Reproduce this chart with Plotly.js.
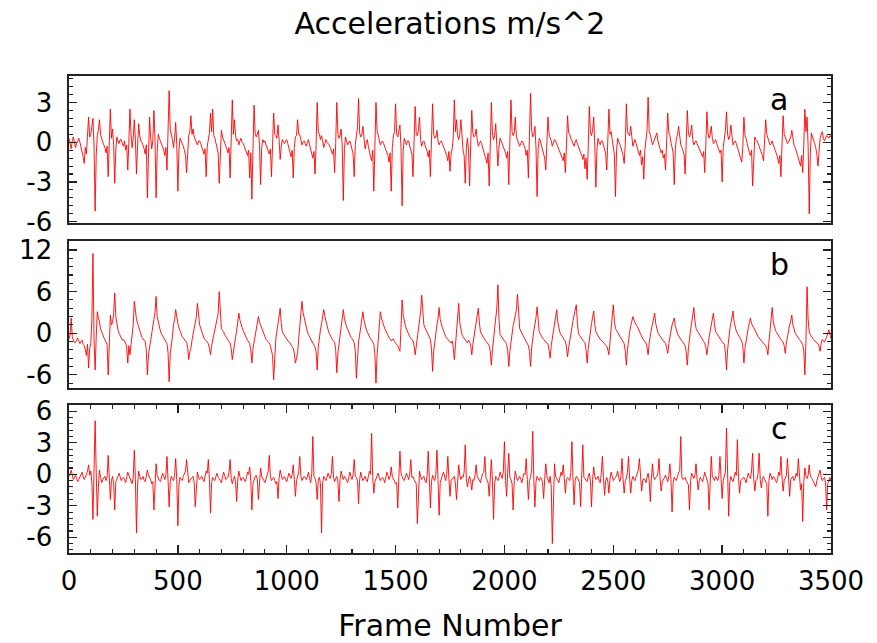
<!DOCTYPE html>
<html>
<head>
<meta charset="utf-8">
<script src="https://cdn.plot.ly/plotly-3.0.1.min.js"></script>
<style>html,body{margin:0;padding:0;background:#fff;}#chart{width:877px;height:643px;}</style>
</head>
<body>
<div id="chart"></div>
<script>
// Sampling grid: one value every 5 frames, frame 0 .. 3500
const FRAME_STEP = 5;
const panelLabels = ["a", "b", "c"];
const xTickVals = [0, 500, 1000, 1500, 2000, 2500, 3000, 3500];
const yTicksA = [-6, -3, 0, 3];
const yTicksB = [-6, 0, 6, 12];
const yTicksC = [-6, -3, 0, 3, 6];

const accA = [
 0.3,-0.1,-0.5,0.1,0.4,0.0,-0.4,-0.1,0.2,0.3,0.0,-0.3,-0.7,-1.1,-1.6,-0.4,-0.9,0.2,1.9,0.4,
 0.6,1.2,1.8,-0.3,-5.2,-1.0,0.5,0.9,1.7,0.6,0.2,0.0,-0.2,-0.4,-0.8,-0.3,-2.6,0.1,2.5,0.3,
 1.0,-0.2,-3.1,-0.5,0.4,0.1,-0.1,0.2,0.2,-0.1,-0.3,0.1,-0.6,-0.2,-2.1,0.0,2.5,0.6,-0.4,0.3,
 1.7,0.2,-2.4,-0.3,1.4,0.5,0.1,0.0,-0.2,-0.5,-0.9,-0.2,-4.2,-0.6,1.9,0.4,-0.5,0.1,2.4,0.3,
 -4.2,-0.8,0.6,0.3,0.1,-0.2,-0.3,-0.6,-1.0,-0.4,-2.1,0.2,3.9,1.0,0.7,0.2,-0.4,0.3,1.5,-0.2,
 -3.7,-0.6,0.3,0.1,0.0,-0.3,-0.6,-1.0,-2.3,-0.4,0.5,0.8,2.0,0.6,1.0,0.4,0.2,0.0,-0.2,0.1,
 0.1,-0.1,-0.4,-0.6,-0.9,-0.5,-2.6,-0.3,0.4,0.7,2.2,0.8,2.5,0.5,0.3,-0.1,-0.5,-0.8,-3.1,-0.2,
 0.9,0.4,0.2,0.0,-0.3,-0.5,-0.8,-0.4,-2.7,0.1,3.2,0.6,1.7,0.5,0.1,0.2,-0.2,0.1,0.3,0.0,
 -0.1,-0.3,-0.5,-0.7,-1.0,-0.6,-2.7,-0.8,-4.3,-0.5,2.8,0.7,0.4,0.6,0.9,-0.2,-3.2,-0.4,0.2,0.0,
 0.1,-0.2,-0.4,-0.6,-0.9,-0.5,-2.6,-0.2,2.2,0.6,0.5,0.3,1.3,0.2,-1.3,-0.3,0.2,0.0,-0.1,0.1,
 0.2,-0.1,-0.5,-0.8,-1.1,-0.6,-2.7,-0.4,0.4,0.5,1.7,0.6,0.6,0.2,-0.2,0.0,0.1,-0.1,-0.3,0.0,
 0.2,-0.2,-0.6,-0.9,-1.2,-0.7,-2.4,-0.2,3.0,0.8,0.6,0.2,0.5,0.1,-0.4,-0.1,0.2,0.0,-0.1,-0.2,
 -0.4,-0.7,-0.9,-0.5,-2.3,-0.1,3.0,0.7,0.3,0.5,1.0,-0.3,-4.4,-0.5,0.4,0.1,-0.2,0.0,0.1,-0.2,
 -0.6,-0.9,-2.6,-0.2,0.5,1.1,3.3,0.7,0.4,0.6,1.2,0.1,-0.5,-0.1,0.2,-0.3,-0.8,-1.1,-1.4,-0.6,
 -3.7,0.2,3.0,0.9,0.6,0.1,-0.2,0.0,0.1,-0.1,-0.3,-0.5,-0.7,-1.0,-1.5,-0.8,-3.7,-0.4,0.5,0.8,
 2.9,0.6,0.4,0.8,1.3,-0.4,-4.8,-0.6,0.3,0.0,-0.2,0.1,0.1,-0.3,-0.7,-0.9,-2.6,-0.1,2.7,0.6,
 0.5,0.9,1.9,0.2,-0.3,0.0,0.1,-0.2,-0.4,-0.7,-1.1,-0.6,-2.6,-0.1,2.9,0.6,0.3,0.4,0.9,0.1,
 -0.2,0.0,0.1,-0.1,-0.3,-0.5,-0.8,-1.0,-1.4,-0.7,-2.2,-0.9,-0.5,0.4,3.2,0.8,1.7,0.5,0.2,0.6,
 1.7,0.3,-0.6,-1.0,-3.1,-0.4,0.3,-0.6,-3.3,-0.2,2.4,0.7,0.4,0.5,1.0,0.2,-0.3,-0.1,0.1,-0.1,
 -0.4,-0.6,-0.9,-1.1,-1.6,-0.8,-3.3,-0.3,3.0,0.7,0.2,0.5,1.4,-0.2,-1.8,-0.4,0.3,0.1,-0.1,-0.3,
 -0.6,-0.8,-1.2,-0.7,-3.2,-0.2,3.2,0.8,0.5,0.7,1.9,0.4,0.2,0.0,-0.3,-0.1,0.1,0.0,-0.2,-0.5,
 -1.0,-0.6,-2.7,-0.1,3.7,0.9,0.4,0.6,1.2,-0.4,-4.1,-0.5,0.3,0.1,-0.2,-0.5,-0.9,-1.2,-2.1,-0.2,
 1.9,0.6,0.4,0.1,-0.3,0.0,0.2,0.1,-0.1,-0.3,-0.5,-0.7,-0.9,-1.1,-1.4,-0.8,-2.3,-0.2,2.0,0.7,
 0.6,0.3,0.1,-0.1,-0.3,0.0,0.2,-0.1,-0.4,-0.6,-0.8,-1.0,-1.3,-0.9,-2.0,-1.2,-2.8,-0.3,2.7,0.8,
 0.5,0.9,1.9,-0.2,-3.4,-0.5,0.3,0.0,-0.2,0.1,0.1,-0.2,-0.6,-0.9,-2.1,-0.1,2.5,0.6,0.8,0.2,
 -0.5,-0.9,-4.1,-0.6,0.3,0.1,-0.1,-0.4,-0.7,-1.0,-1.6,-0.2,2.9,0.8,0.6,0.5,1.2,0.1,-0.3,0.0,
 0.2,-0.1,-0.4,-0.7,-1.0,-0.6,-1.7,-1.1,-2.8,-0.6,0.5,0.9,3.4,0.8,0.6,0.1,-0.2,0.0,0.3,0.4,
 0.7,0.1,-0.3,-0.5,-0.8,-0.6,-1.2,-0.9,-2.1,-0.2,2.2,0.7,0.5,0.0,-0.4,-0.8,-3.2,-0.5,0.3,0.6,
 1.2,0.3,-0.2,-0.4,-0.7,-0.9,-2.4,-0.2,2.4,0.7,0.4,0.6,1.3,0.2,-0.2,0.0,0.1,-0.1,-0.3,-0.4,
 -0.6,-0.8,-1.1,-0.7,-2.3,-0.2,2.3,0.7,0.3,0.6,1.2,0.3,-0.1,0.0,0.2,-0.1,-0.3,-0.5,-0.8,-0.6,
 -3.0,-0.4,0.4,0.9,2.3,0.6,0.2,0.5,1.3,0.2,-0.2,0.0,0.1,-0.1,-0.4,-0.7,-0.9,-1.1,-1.5,-0.3,
 1.9,0.5,0.3,-0.1,-0.5,-0.8,-1.0,-0.6,-3.3,-0.5,0.4,0.2,0.1,-0.1,-0.3,-0.5,-0.7,-1.0,-1.4,-0.2,
 1.7,0.6,0.3,0.0,-0.2,-0.1,0.1,-0.2,-0.4,-0.6,-0.9,-1.2,-1.6,-1.0,-2.6,-0.2,2.0,0.6,0.4,0.1,
 -0.1,0.0,0.2,0.4,0.9,0.1,-0.2,-0.4,-0.6,-0.9,-1.2,-1.5,-1.8,-1.0,-2.3,-0.2,2.5,0.8,1.9,-0.3,
 -5.4,-0.8,0.7,0.4,0.2,-0.1,-0.4,-0.9,-1.8,-0.4,0.3,0.6,0.8,0.3,0.1,0.3,0.5,0.4,0.3,0.5,0.4
];

const accB = [
 -0.8,-0.3,2.2,-0.5,-1.0,-1.4,-1.3,-0.9,-0.7,-1.1,-1.5,-1.2,-1.0,-1.6,-1.8,-2.4,-3.2,-1.6,-5.0,-2.2,
 -1.5,2.0,11.5,-1.0,-5.3,-0.5,3.1,2.2,1.7,0.6,0.0,-0.2,-0.6,-0.9,-1.2,-1.6,-6.0,-1.5,2.6,1.2,
 1.5,2.8,5.8,2.4,1.2,0.5,0.0,-0.3,-0.6,-1.0,-0.9,-1.2,-1.4,-2.0,-4.3,-1.8,-3.1,-1.6,-0.5,1.2,
 4.6,2.9,2.0,1.4,0.8,0.2,-0.3,-0.6,-0.8,-1.0,-1.2,-2.4,-6.0,-3.1,-2.2,-1.3,-0.4,0.8,2.0,3.0,
 5.3,2.4,1.5,0.9,0.3,-0.1,-0.4,-0.7,-0.9,-1.2,-1.5,-2.8,-7.0,-2.9,-1.8,-0.5,1.2,2.0,3.4,2.2,
 1.4,0.8,0.3,-0.1,-0.5,-0.7,-0.9,-1.1,-1.3,-2.0,-3.8,-2.6,-2.2,-1.0,-0.2,0.6,1.5,2.4,4.3,2.1,
 1.2,0.7,0.2,-0.3,-0.7,-0.9,-1.1,-1.3,-1.5,-2.2,-3.1,-1.8,-1.0,-0.3,0.5,1.2,2.0,2.8,6.0,2.0,
 0.7,0.4,0.2,-0.2,-0.5,-0.8,-1.0,-1.2,-1.4,-2.2,-3.8,-2.5,-1.8,-0.6,0.3,1.4,2.9,1.9,1.2,0.8,
 0.4,0.0,-0.5,-0.7,-1.0,-1.3,-1.5,-2.4,-4.3,-2.2,-1.2,-0.3,0.6,1.5,2.4,1.6,1.2,0.7,0.3,-0.2,
 -0.6,-0.9,-1.1,-1.2,-1.4,-1.8,-2.5,-3.2,-6.7,-2.4,-0.8,0.3,1.5,2.2,3.6,1.4,0.2,-0.1,-0.4,-0.7,
 -0.9,-1.1,-1.2,-1.4,-1.6,-1.9,-2.2,-2.9,-4.3,-3.4,-2.9,-0.8,1.0,2.5,4.6,3.0,2.3,1.4,0.7,0.2,
 -0.2,-0.5,-0.8,-1.0,-1.2,-1.5,-2.0,-2.7,-5.3,-2.0,-0.5,0.5,1.4,2.3,3.4,2.5,1.7,1.0,0.5,0.0,
 -0.4,-0.7,-0.9,-1.1,-1.3,-2.4,-5.7,-2.9,-1.6,-0.3,0.8,2.0,3.4,2.1,1.2,0.9,0.6,0.1,-0.3,-0.6,
 -0.8,-1.0,-1.4,-2.6,-6.5,-2.8,-1.2,-0.2,0.9,1.8,3.1,1.9,1.0,0.6,0.2,-0.2,-0.5,-0.8,-1.0,-1.3,
 -1.6,-3.0,-7.2,-3.2,-0.9,1.0,3.1,2.2,1.8,1.2,0.7,0.3,0.0,-0.3,-0.6,-0.9,-1.1,-1.0,-0.8,-1.2,
 -1.4,-1.5,-1.8,-2.2,-2.6,0.8,4.8,2.6,1.7,1.1,0.6,0.2,-0.2,-0.5,-0.7,-0.9,-1.1,-1.8,-3.1,-1.9,
 -0.8,0.4,1.6,3.1,5.5,2.4,1.2,0.8,0.5,0.1,-0.3,-0.6,-0.9,-2.2,-5.5,-2.6,-1.0,0.0,1.2,2.1,
 3.7,2.0,1.2,0.8,0.4,-0.1,-0.5,-0.7,-0.9,-1.1,-1.3,-1.4,-1.1,-2.1,-3.8,-1.6,0.2,1.8,4.3,1.5,
 0.2,-0.2,-0.5,-0.7,-0.9,-1.2,-1.4,-1.0,-1.2,-1.8,-3.1,-1.6,-0.4,0.5,1.4,2.4,3.6,1.5,0.2,-0.1,
 -0.4,-0.7,-1.0,-1.2,-1.3,-1.5,-1.8,-2.6,-4.6,-2.4,-0.6,0.6,2.2,3.5,7.0,2.0,-0.2,-0.4,-0.7,-0.9,
 -1.1,-1.3,-1.6,-2.5,-4.8,-2.6,-1.0,0.0,1.1,1.8,2.5,3.4,5.6,2.2,0.7,0.3,0.0,-0.3,-0.7,-1.0,
 -1.2,-1.4,-1.8,-2.6,-4.8,-2.1,-0.4,0.4,1.3,2.2,3.8,1.6,0.2,-0.1,-0.5,-0.7,-0.9,-1.1,-1.3,-1.4,
 -1.6,-2.4,-3.6,-1.8,-0.6,0.3,1.2,2.2,3.4,1.6,0.5,0.1,-0.2,-0.5,-0.8,-1.0,-1.2,-2.0,-3.4,-2.1,
 -1.0,0.0,1.1,1.8,2.6,3.2,4.1,1.5,0.0,-0.3,-0.6,-0.8,-1.0,-1.2,-1.4,-2.4,-4.3,-2.2,-0.8,0.4,
 1.4,2.3,3.2,1.3,0.2,-0.1,-0.4,-0.7,-0.9,-1.0,-1.2,-1.4,-1.6,-1.7,-1.9,-2.4,-3.1,-1.2,0.3,2.0,
 4.1,1.8,0.7,0.4,0.1,-0.2,-0.5,-0.7,-0.9,-1.2,-1.5,-2.6,-4.6,-2.4,-0.8,0.1,1.0,1.6,2.4,1.9,
 1.4,1.2,1.0,0.6,0.2,-0.2,-0.5,-0.8,-1.0,-1.2,-1.4,-2.0,-3.1,-1.4,-0.2,0.6,1.3,2.0,2.9,1.4,
 0.5,0.1,-0.2,-0.5,-0.7,-0.9,-1.1,-1.3,-1.5,-2.1,-2.9,-1.5,-0.4,0.4,1.2,1.7,2.2,1.0,0.2,-0.1,
 -0.4,-0.7,-0.9,-1.1,-1.3,-1.5,-1.8,-2.7,-4.6,-2.2,-0.5,0.5,1.5,2.4,3.7,1.8,0.7,0.4,0.1,-0.2,
 -0.5,-0.7,-0.9,-1.2,-1.4,-2.0,-3.1,-1.6,-0.6,0.3,1.2,2.0,2.9,1.2,0.2,0.0,-0.3,-0.6,-0.8,-1.0,
 -1.2,-1.4,-1.6,-2.8,-5.3,-2.4,-0.4,0.5,1.4,2.2,3.2,1.6,0.7,0.3,0.0,-0.3,-0.6,-0.9,-1.1,-1.9,
 -4.3,-2.1,-0.9,0.0,0.8,1.5,2.2,1.4,1.0,0.8,0.5,0.1,-0.2,-0.5,-0.7,-0.9,-1.1,-1.2,-1.4,-1.6,
 -1.8,-2.2,-3.1,-1.2,0.2,1.8,3.7,1.6,0.7,0.4,0.1,-0.2,-0.5,-0.7,-0.9,-1.1,-1.3,-1.8,-2.9,-1.4,
 -0.4,0.4,1.2,1.8,2.6,1.2,0.5,0.1,-0.2,-0.5,-0.7,-0.9,-1.1,-1.3,-1.6,-2.6,-6.0,-1.0,6.7,2.0,
 0.2,-0.2,-0.5,-0.7,-0.9,-1.1,-1.2,-1.4,-1.5,-1.9,-2.6,-1.4,-0.9,-1.1,-1.3,-0.9,-0.6,-0.1,0.5,-0.3,-0.8
];

const accC = [
 -0.2,0.0,0.4,-0.2,-0.5,-0.3,-0.1,-0.4,-0.7,-0.5,-0.3,-0.1,0.2,-0.2,-0.5,-0.3,0.0,0.3,0.9,-0.1,
 0.3,-0.8,-4.3,-0.5,5.1,0.2,-4.0,-1.2,0.4,-0.3,-0.8,-0.5,-0.3,-0.2,-0.6,-0.3,1.8,-0.4,-2.4,-0.6,
 -0.2,-0.9,-3.4,-0.7,-0.5,-0.2,0.1,-0.3,-0.6,-0.4,-0.3,-0.5,-0.8,-0.3,0.2,-0.1,-0.4,-0.6,-0.9,-0.3,
 2.3,-0.5,-5.6,-1.0,0.3,-0.2,-0.5,-0.4,-0.2,-0.6,-0.7,-0.2,0.4,-0.1,-0.3,-0.5,-0.9,-0.7,-3.4,-0.8,
 1.0,-0.1,-0.4,-0.6,-0.7,-0.3,0.1,-0.2,-0.5,-0.1,1.7,-0.6,-3.1,-0.7,-0.2,-0.4,-0.6,-0.1,1.5,-0.5,
 -4.9,-1.0,-0.3,-0.5,-0.6,-0.2,0.1,0.3,1.4,-0.2,-0.8,-0.6,-0.4,-0.3,-0.2,-0.8,-3.1,-0.6,0.2,-0.3,
 -0.5,-0.3,-0.2,-0.5,-0.7,-0.2,0.3,0.1,1.4,-0.5,-3.7,-0.8,-0.3,-0.5,-0.6,-0.2,0.1,-0.3,-0.4,-0.6,
 -0.8,-0.3,0.2,-0.1,-0.5,-0.4,-0.3,0.2,1.4,-0.4,-0.9,-0.5,-0.2,-0.7,-2.6,-0.6,0.3,-0.2,-0.6,-0.4,
 -0.3,-0.5,-0.7,-0.3,0.2,0.0,0.7,-0.6,-3.4,-0.9,-0.4,-0.2,-0.1,-0.5,-2.4,-0.6,0.6,-0.2,-0.5,-0.6,
 -0.8,-0.4,-0.2,0.3,1.8,-0.2,-0.6,-0.4,-0.3,-0.6,-0.9,-0.7,-2.3,-0.4,0.4,-0.1,-0.5,-0.3,-0.2,-0.5,
 -0.7,-0.3,0.1,-0.2,-0.4,0.0,0.9,-0.5,-2.1,-0.6,-0.3,0.2,1.7,-0.2,-0.6,-0.4,-0.2,-0.3,-0.5,-0.2,
 0.2,-0.4,-0.8,0.1,3.6,-0.2,-0.4,-0.8,-2.4,-0.6,-0.3,-0.9,-5.6,-0.8,-0.2,-0.4,-0.6,-0.3,0.1,-0.2,
 -0.4,0.1,1.7,-0.3,-0.7,-0.4,-0.2,-0.7,-2.6,-0.5,0.3,-0.1,-0.5,-0.2,-0.3,-0.6,-0.8,-0.3,0.2,-0.2,
 -0.5,0.0,1.4,-0.2,-0.3,-0.6,-2.8,-0.5,0.2,-0.3,-0.6,-0.4,-0.2,-0.5,-0.7,-0.2,0.3,0.0,3.9,-0.3,
 -1.8,-0.7,-0.4,-0.2,0.1,-0.3,-0.6,-0.4,-0.3,-0.5,-0.8,-0.3,0.2,-0.1,-0.5,-0.2,0.7,-0.2,-0.4,-0.6,
 -0.9,-0.8,-3.2,-0.4,2.2,0.1,-0.3,-0.5,-0.6,-0.3,0.1,-0.2,-0.5,0.0,1.4,-0.3,-0.2,-0.5,-0.7,-0.9,
 -4.7,-0.9,0.3,-0.2,-0.5,-0.3,-0.2,-0.6,-0.8,-0.1,2.2,-0.4,-3.2,-0.7,-0.1,-0.4,-0.6,0.0,2.3,-0.5,
 -3.9,-0.8,-0.3,-0.1,0.2,-0.3,-0.6,0.0,1.7,-0.4,-2.1,-0.6,-0.4,-0.3,-0.2,-0.9,-2.4,-0.5,0.9,-0.1,
 -0.5,-0.2,-0.3,0.2,2.8,-0.4,-1.2,-0.6,-0.2,-0.7,-1.5,-0.5,-0.6,-0.1,0.9,-0.2,-0.4,-0.6,-0.8,-0.3,
 0.1,0.2,1.7,-0.3,-0.5,-0.8,-2.1,-0.2,1.4,-0.6,-4.3,-0.9,-0.2,-0.4,-0.6,-0.3,0.2,-0.1,-0.4,0.3,
 3.1,-0.6,-2.1,0.2,2.0,-0.3,-0.5,-0.9,-3.4,-0.6,0.3,-0.2,-0.6,-0.4,-0.2,-0.5,-0.8,-0.3,0.1,0.0,
 1.5,-0.5,-2.4,-0.6,-0.3,0.4,4.1,-0.5,-3.1,-0.7,-0.2,-0.4,-0.6,-0.3,-0.4,-0.8,-2.3,-0.4,1.0,-0.2,
 -0.5,-0.8,-0.2,-1.2,-6.6,-1.0,1.0,-0.2,-0.4,-0.6,-0.8,-0.3,0.2,-0.1,0.9,-0.4,-1.8,-0.5,-0.3,-0.4,
 -0.6,0.2,3.1,-0.4,-2.9,-0.6,-0.2,-0.3,-0.5,-0.8,-3.1,-0.2,2.8,-0.3,-0.4,-0.6,-0.7,-0.2,0.1,-0.7,
 -3.1,-0.5,0.7,-0.2,-0.5,-0.4,-0.2,-0.6,-0.8,0.1,1.7,-0.4,-2.0,-0.6,-0.3,-0.7,-1.8,-0.4,0.2,-0.2,
 -0.6,-0.4,-0.3,-0.1,0.3,-0.3,-0.7,-0.2,1.5,-0.5,-1.8,-0.6,-0.4,0.2,1.7,-0.4,-1.8,-0.6,-0.2,-0.5,
 -0.6,-0.2,0.2,0.4,1.5,-0.5,-1.6,-0.6,-0.4,-0.5,-0.8,-0.3,0.1,-0.6,-2.6,-0.4,1.0,-0.2,-0.5,-0.3,
 -0.2,0.1,1.5,-0.4,-1.6,-0.7,-0.5,-0.3,-0.1,-0.4,-0.7,-0.2,1.0,-0.5,-3.6,-0.8,-0.3,-0.5,-0.6,-0.2,
 0.2,0.3,3.6,-0.3,-0.5,-0.4,-0.3,-0.6,-0.8,-1.0,-3.4,-0.6,0.1,-0.2,-0.4,-0.1,1.0,-0.5,-1.5,-0.6,
 -0.3,-0.5,-0.7,-0.3,0.2,-0.2,-0.5,-0.8,-3.4,-0.4,1.7,-0.2,-0.4,-0.6,-0.2,-0.4,-0.6,-0.1,1.7,-0.4,
 -2.3,-0.6,-0.3,0.2,4.4,-0.6,-4.0,-0.8,-0.2,-0.5,-0.7,-0.3,0.2,-0.1,3.3,-0.3,-1.8,-0.6,-0.5,-0.4,
 -0.3,-0.5,-0.8,-0.3,0.1,-0.2,-0.4,0.3,2.0,-0.4,-1.6,-0.6,-0.5,0.1,2.0,-0.5,-1.3,-0.4,-0.2,-0.5,
 -0.7,-0.9,-4.0,-0.6,0.1,-0.3,-0.5,-0.2,-0.3,-0.6,-0.8,-0.4,0.2,-0.1,1.7,-0.3,-1.6,-0.6,-0.4,-0.1,
 1.5,-0.4,-2.1,-0.5,-0.3,-0.2,-0.6,-0.4,0.1,-0.2,1.5,-0.3,-1.5,-0.9,-4.5,-0.7,0.6,-0.2,-0.4,-0.1,
 0.9,-0.2,-0.3,-0.5,-0.7,-0.9,-1.2,-0.6,-0.2,0.1,0.4,-0.3,-0.6,-0.4,-0.3,-0.8,-3.4,-0.9,-0.5,-0.3,-0.7
];

const frames = accA.map((_, i) => i * FRAME_STEP);

const lineStyle = {color: '#ff0000', width: 0.9};
const traces = [
  {x: frames, y: accA, xaxis: 'x', yaxis: 'y', type: 'scatter', mode: 'lines', line: lineStyle, hoverinfo: 'skip'},
  {x: frames, y: accB, xaxis: 'x2', yaxis: 'y2', type: 'scatter', mode: 'lines', line: lineStyle, hoverinfo: 'skip'},
  {x: frames, y: accC, xaxis: 'x3', yaxis: 'y3', type: 'scatter', mode: 'lines', line: lineStyle, hoverinfo: 'skip'}
];

const FONT = 'DejaVu Sans, Liberation Sans, sans-serif';
const frameColor = '#222';

function yAxis(domain, range, tickvals, minorStep, anchor) {
  return {
    domain: domain, range: range, anchor: anchor,
    tickvals: tickvals, ticktext: tickvals.map(String),
    ticks: 'inside', ticklen: 8, tickwidth: 1.3, tickcolor: frameColor,
    minor: {ticks: 'inside', dtick: minorStep, tick0: 0, ticklen: 4, tickwidth: 1.1, tickcolor: frameColor, showgrid: false},
    showline: true, linecolor: frameColor, linewidth: 1.6, mirror: 'allticks',
    showgrid: false, zeroline: false,
    tickfont: {family: FONT, size: 26, color: '#000'},
    ticklabelstandoff: 10
  };
}
function xAxis(anchor, showLabels) {
  const ax = {
    anchor: anchor, range: [0, 3500], domain: [0, 1],
    showline: true, linecolor: frameColor, linewidth: 1.6, mirror: true,
    showgrid: false, zeroline: false
  };
  if (showLabels) {
    Object.assign(ax, {
      tickvals: xTickVals, ticktext: xTickVals.map(String),
      ticks: 'inside', ticklen: 8, tickwidth: 1.3, tickcolor: frameColor,
      minor: {ticks: 'inside', dtick: 100, tick0: 0, ticklen: 4, tickwidth: 1.1, tickcolor: frameColor, showgrid: false},
      mirror: 'allticks',
      tickfont: {family: FONT, size: 26, color: '#000'},
      ticklabelstandoff: 4,
      title: {text: 'Frame Number', font: {family: FONT, size: 30, color: '#000'}, standoff: 26}
    });
  } else {
    Object.assign(ax, {ticks: '', showticklabels: false, matches: 'x3'});
  }
  return ax;
}

const labelFont = {family: FONT, size: 30, color: '#000'};
const layout = {
  width: 877, height: 643,
  paper_bgcolor: '#fff', plot_bgcolor: '#fff',
  margin: {l: 69, r: 46, t: 76, b: 90},
  showlegend: false,
  title: {text: 'Accelerations m/s^2', font: {family: FONT, size: 30, color: '#000'},
          x: 0.5, xref: 'paper', y: 0.964, yref: 'container', yanchor: 'middle'},
  xaxis: xAxis('y', false),
  xaxis2: xAxis('y2', false),
  xaxis3: xAxis('y3', true),
  yaxis: yAxis([0.6918, 1], [-6.1, 5.0], yTicksA, 0.6, 'x'),
  yaxis2: yAxis([0.3459, 0.6541], [-7.9, 13.3], yTicksB, 1.2, 'x2'),
  yaxis3: yAxis([0, 0.3103], [-7.5, 6.6], yTicksC, 0.6, 'x3'),
  annotations: [
    {text: panelLabels[0], xref: 'paper', yref: 'paper', x: 0.932, y: 0.950, xanchor: 'center', yanchor: 'middle', showarrow: false, font: labelFont},
    {text: panelLabels[1], xref: 'paper', yref: 'paper', x: 0.932, y: 0.604, xanchor: 'center', yanchor: 'middle', showarrow: false, font: labelFont},
    {text: panelLabels[2], xref: 'paper', yref: 'paper', x: 0.932, y: 0.262, xanchor: 'center', yanchor: 'middle', showarrow: false, font: labelFont}
  ]
};

Plotly.newPlot('chart', traces, layout, {staticPlot: true, displayModeBar: false});
</script>
</body>
</html>
